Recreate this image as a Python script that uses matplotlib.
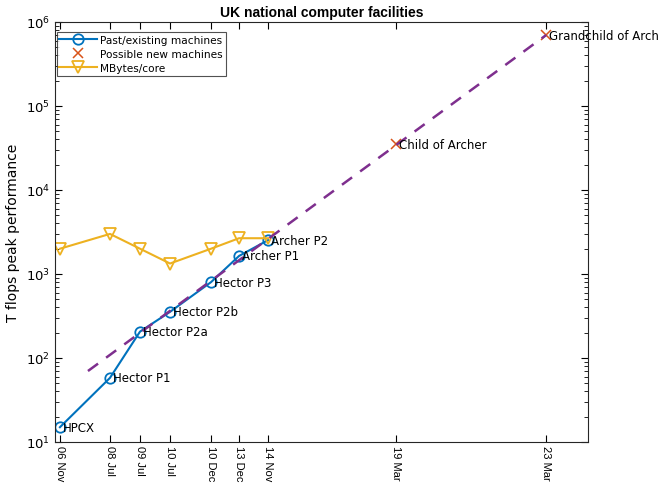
import matplotlib
matplotlib.use("Agg")
import matplotlib.pyplot as plt
from matplotlib.ticker import LogLocator, NullFormatter
from matplotlib.transforms import offset_copy

# Machines, their position on the x axis and peak Tflops
names = ["HPCX", "Hector P1", "Hector P2a", "Hector P2b", "Hector P3", "Archer P1", "Archer P2"]
x_pos = [2, 52, 82, 112, 153, 181, 210]
tflops = [15, 58, 206, 354, 800, 1640, 2530]

# Possible new machines
new_names = ["Child of Archer", "Grandchild of Arch"]
new_x = [338, 488]
new_tflops = [35000, 700000]

# Memory per core
mb_core = [2000, 3000, 2000, 1333, 2000, 2666, 2666]

# Trend line end points
trend_x = [30, 488]
trend_y = [70, 700000]

tick_pos = x_pos + new_x
tick_labels = ["06 Nov", "08 Jul", "09 Jul", "10 Jul", "10 Dec", "13 Dec", "14 Nov", "19 Mar", "23 Mar"]

blue = "#0072BD"
orange = "#D95319"
yellow = "#EDB120"
purple = "#7E2F8E"

fig = plt.figure(figsize=(6.7, 4.85), dpi=100)
ax = fig.add_axes([0.082, 0.0866, 0.796, 0.866])

ax.plot(x_pos, tflops, "-o", color=blue, lw=1.5, ms=7.5, mfc="none", mew=1.3,
        label="Past/existing machines")
ax.plot(new_x, new_tflops, "x", color=orange, ms=7, mew=1.1, lw=0,
        label="Possible new machines")
ax.plot(x_pos, mb_core, "-v", color=yellow, lw=1.5, ms=9, mfc="none", mew=1.3,
        label="MBytes/core")
ax.plot(trend_x, trend_y, "--", color=purple, lw=1.8, dashes=(5, 4))

# Machine names next to each point
shift = offset_copy(ax.transData, fig=fig, x=3, y=0, units="dots")
for n, xx, yy in zip(names + new_names, x_pos + new_x, tflops + new_tflops):
    ax.text(xx, yy, n, ha="left", va="center", fontsize=8.5, family="DejaVu Sans",
            transform=shift)

ax.set_yscale("log")
ax.set_ylim(10, 1e6)
ax.set_xlim(-3, 530)
ax.set_xticks(tick_pos)
ax.set_xticklabels(tick_labels, rotation=270, family="Liberation Sans")
ax.yaxis.set_major_locator(LogLocator(base=10, numticks=10))
ax.yaxis.set_minor_locator(LogLocator(base=10, subs=range(2, 10), numticks=10))
ax.yaxis.set_minor_formatter(NullFormatter())
ax.tick_params(direction="in", top=True, right=True, which="both", labelsize=9.5)
ax.tick_params(axis="x", labelsize=8, pad=2)
ax.tick_params(which="major", length=5)
ax.tick_params(which="minor", length=3)
for s in ax.spines.values():
    s.set_color("#262626")

ax.set_ylabel("T flops peak performance", fontsize=10, family="DejaVu Sans")
ax.set_title("UK national computer facilities", fontsize=10, fontweight="bold",
             family="Liberation Sans", pad=4)

leg = ax.legend(loc="upper left", frameon=True, fancybox=False, numpoints=1,
                edgecolor="#262626", borderpad=0.25, handlelength=3.6,
                handletextpad=0.3, labelspacing=0.4,
                bbox_to_anchor=(0.0, 0.98), borderaxespad=0.15,
                prop={"family": "DejaVu Sans", "size": 7.6})
leg.get_frame().set_linewidth(0.8)

plt.savefig("out.png", dpi=100)
